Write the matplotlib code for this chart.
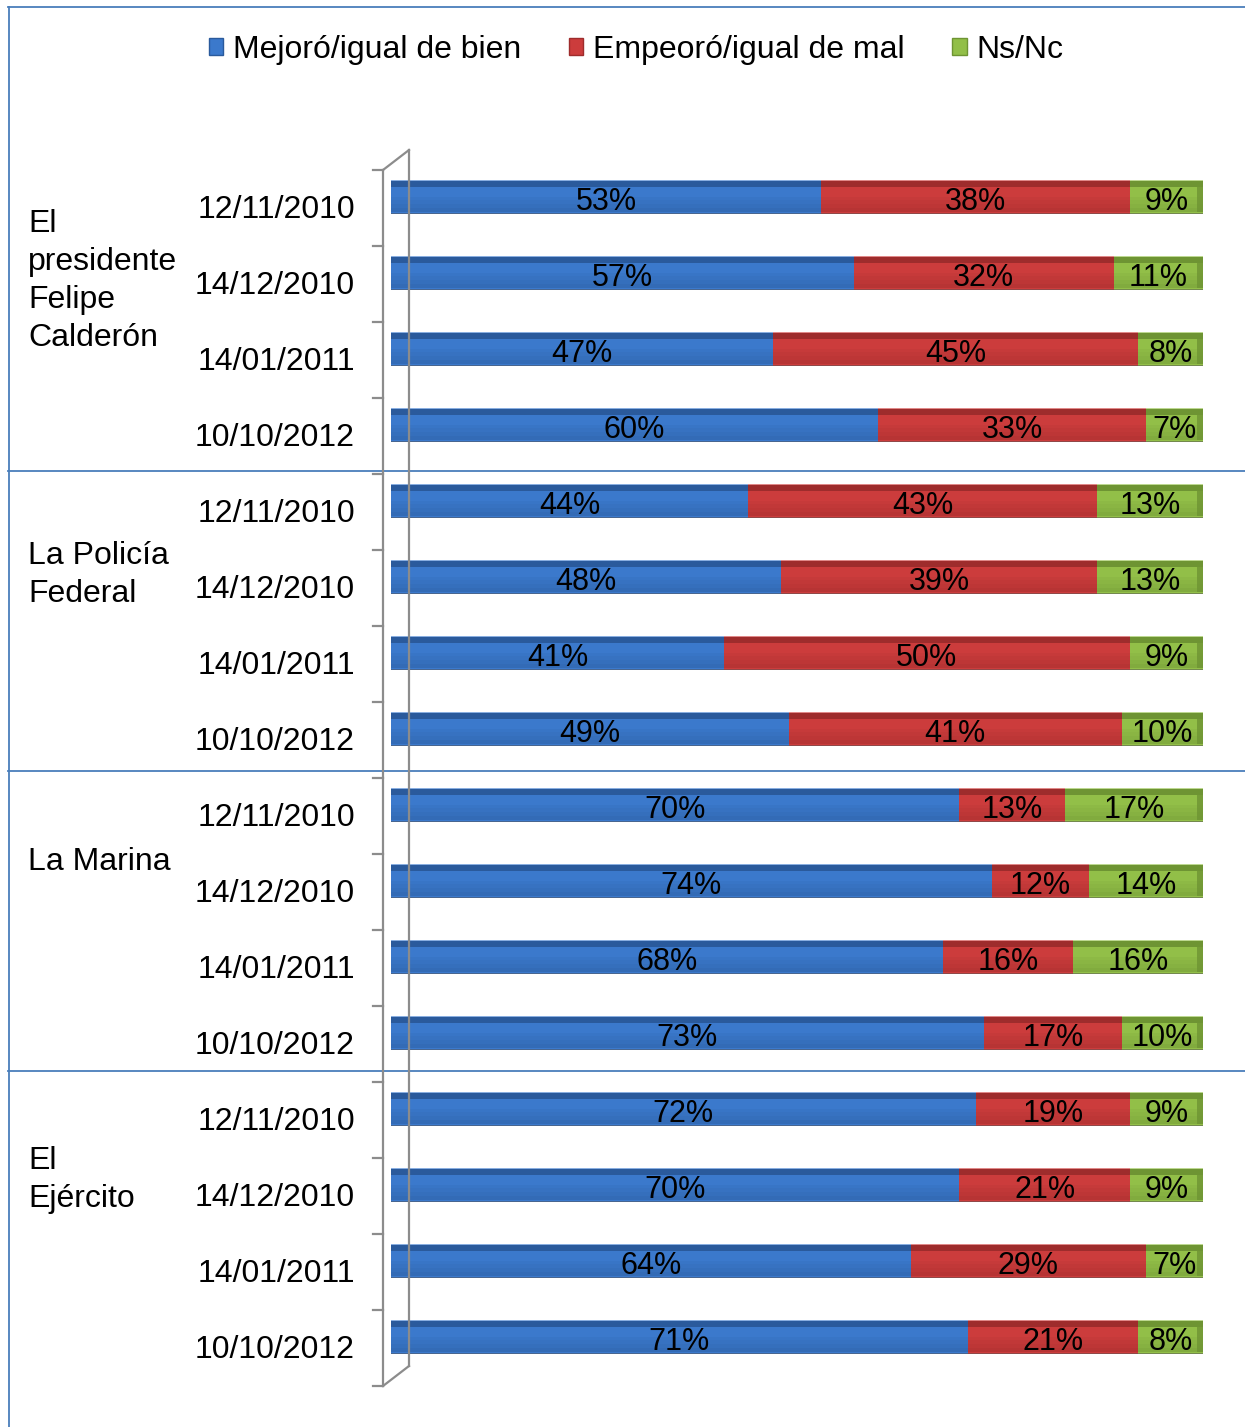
import numpy as np
import matplotlib.pyplot as plt
import matplotlib.transforms as mtransforms
from matplotlib.lines import Line2D
from matplotlib.patches import Patch

plt.rcParams["font.family"] = ["Liberation Sans", "DejaVu Sans"]

# Data
groups = ["El\npresidente\nFelipe\nCalderón", "La Policía\nFederal", "La Marina", "El\nEjército"]
dates = ["12/11/2010", "14/12/2010", "14/01/2011", "10/10/2012"]
series_names = ["Mejoró/igual de bien", "Empeoró/igual de mal", "Ns/Nc"]
mejoro = [53, 57, 47, 60, 44, 48, 41, 49, 70, 74, 68, 73, 72, 70, 64, 71]
empeoro = [38, 32, 45, 33, 43, 39, 50, 41, 13, 12, 16, 17, 19, 21, 29, 21]
nsnc = [9, 11, 8, 7, 13, 13, 9, 10, 17, 14, 16, 10, 9, 9, 7, 8]

# Style
colors = ["#3B79CC", "#CC3C3C", "#92BF48"]
darks = ["#2A5A9C", "#9E2C2C", "#6E9433"]
wall = "#8C8C8C"
frame = "#4A7EBB"
group_label_rows = [1.1, 4.97, 8.75, 12.93]
sep_rows = [3.605, 7.553, 11.5]

W, H = 1245, 1427
fig = plt.figure(figsize=(W / 100, H / 100), dpi=100)
left_px, right_px = 391, 1203
top_px, bot_px = 159, 1375
ax = fig.add_axes([left_px / W, 1 - bot_px / H, (right_px - left_px) / W, (bot_px - top_px) / H])
n = len(mejoro)
rows = np.arange(n)
ax.set_xlim(0, 100)
ax.set_ylim(n - 0.5, -0.5)
ax.axis("off")


def shift(dx, dy):
    # offset in pixels (dy positive = down)
    return ax.transData + mtransforms.ScaledTranslation(dx / 100, -dy / 100, fig.dpi_scale_trans)


def px(x, y, dx, dy):
    return shift(dx, dy).transform((x, y))


def disp_line(p1, p2, **kw):
    fig.add_artist(Line2D([p1[0], p2[0]], [p1[1], p2[1]], transform=mtransforms.IdentityTransform(), **kw))


# 3D wall
wkw = dict(color=wall, lw=1.6, zorder=1)
disp_line(px(0, -0.5, -8, 11), px(0, n - 0.5, -8, 11), **wkw)
disp_line(px(0, -0.5, 18, -9), px(0, n - 0.5, 18, -9), **wkw)
disp_line(px(0, -0.5, -8, 11), px(0, -0.5, 18, -9), **wkw)
disp_line(px(0, n - 0.5, -8, 11), px(0, n - 0.5, 18, -9), **wkw)
for k in range(n + 1):
    disp_line(px(0, k - 0.5, -18, 11), px(0, k - 0.5, -8, 11), **wkw)

# Bars
bh = 0.45
lefts = np.zeros(n)
for vals, col, dark in zip([mejoro, empeoro, nsnc], colors, darks):
    vals = np.array(vals)
    ax.barh(rows, vals, left=lefts, height=bh, color=col, zorder=3)
    # top bevel
    ax.barh(rows - bh / 2 + 0.05, vals, left=lefts, height=0.08, color=dark, zorder=4)
    ax.barh(rows - bh / 2 + 0.005, vals, left=lefts, height=0.01, color="white", alpha=0.4, zorder=4)
    # shading toward the bottom
    for j, a in enumerate([0.12, 0.22, 0.32, 0.45]):
        ax.barh(rows + 0.02 + j * 0.05, vals, left=lefts, height=0.05, color=dark, alpha=a,
                zorder=4, lw=0)
    ax.barh(rows + bh / 2 - 0.01, vals, left=lefts, height=0.02, color="#555555", alpha=0.5, zorder=4)
    for i in rows:
        ax.text(lefts[i] + vals[i] / 2, i, f"{vals[i]}%", ha="center", va="center",
                fontsize=22, zorder=5, transform=shift(0, 5))
    lefts = lefts + vals

# end cap of the bars
ax.barh(rows, 0.7, left=lefts - 0.7, height=bh * 0.85, color=darks[2], alpha=0.8, zorder=4)

# Category labels
for i in rows:
    ax.text(0, i, dates[i % len(dates)], transform=shift(-36, 13), ha="right", va="center",
            fontsize=23)

# Group labels and separators
blend = mtransforms.blended_transform_factory(fig.transFigure, ax.transData)
for g, r in zip(groups, group_label_rows):
    ax.text(28 / W, r, g, transform=blend, ha="left", va="center", fontsize=23, linespacing=1.35)
for b in sep_rows:
    ax.plot([8 / W, 1], [b, b], transform=blend, color=frame, lw=1.3, clip_on=False, zorder=6)

# Frame
fig.add_artist(Line2D([8.5 / W, 8.5 / W], [0, 1 - 7 / H], color=frame, lw=1.3))
fig.add_artist(Line2D([8 / W, 1], [1 - 7 / H, 1 - 7 / H], color=frame, lw=1.3))

# Legend
handles = [Patch(facecolor=c, edgecolor=d, lw=1) for c, d in zip(colors, darks)]
fig.legend(handles, series_names, loc="center", bbox_to_anchor=(636 / W, 1 - 50 / H), ncol=3,
           frameon=False, fontsize=23, handlelength=0.45, handleheight=0.45,
           handletextpad=0.3, columnspacing=1.5)

fig.savefig("out.png", dpi=100)
